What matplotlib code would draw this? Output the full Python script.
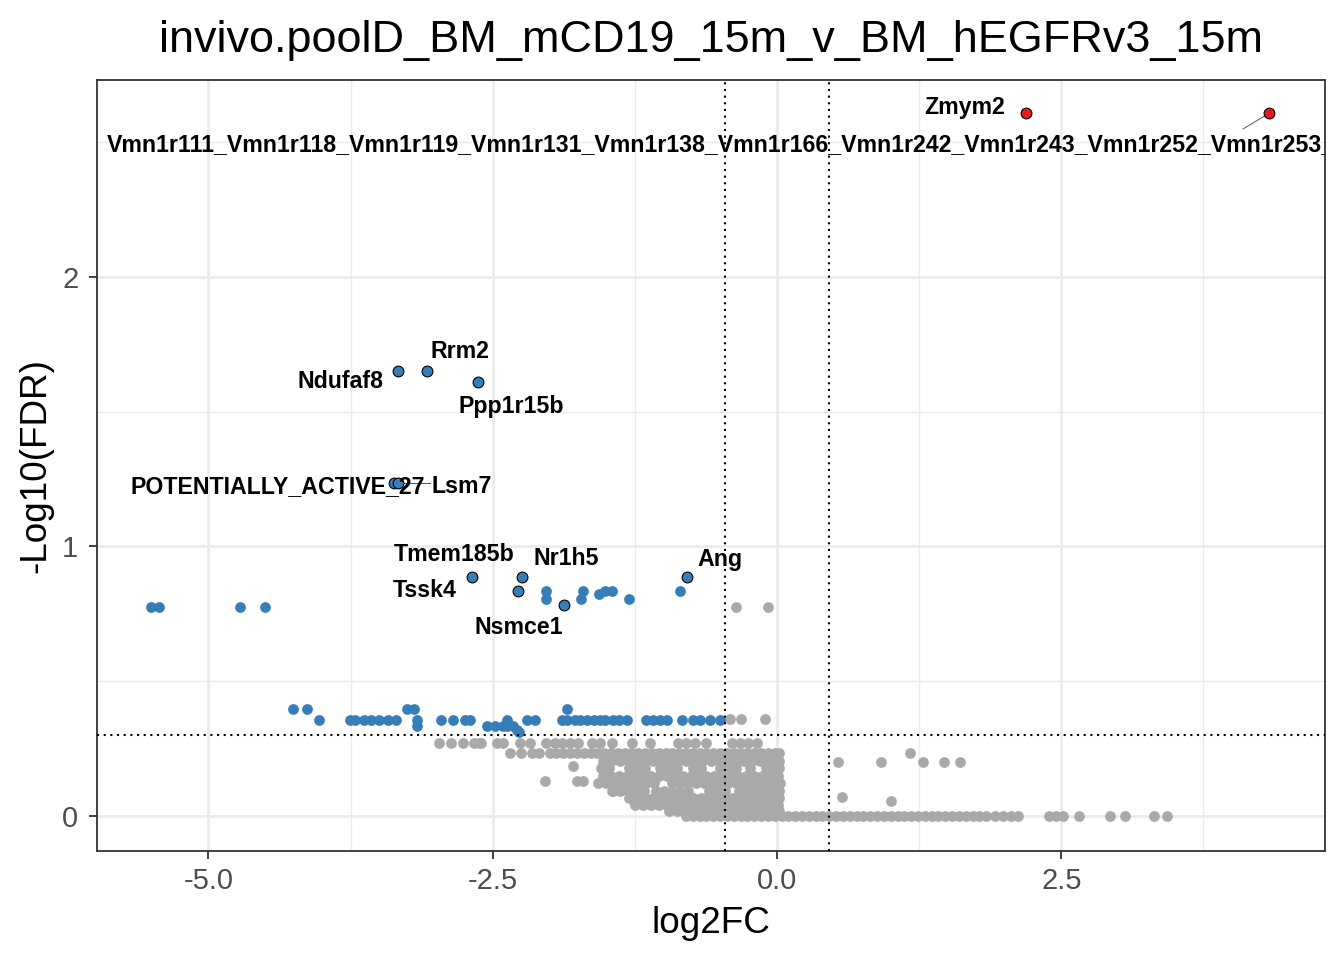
import matplotlib
matplotlib.use("Agg")
import matplotlib.pyplot as plt
from matplotlib.ticker import FixedLocator

plt.rcParams['font.family'] = ['Liberation Sans', 'DejaVu Sans']

title = "invivo.poolD_BM_mCD19_15m_v_BM_hEGFRv3_15m"
fc_cut = 0.46
fdr_cut = 0.301

# labelled hits (log2FC, -log10 FDR)
up_genes = ["Zmym2",
            "Vmn1r111_Vmn1r118_Vmn1r119_Vmn1r131_Vmn1r138_Vmn1r166_Vmn1r242_Vmn1r243_Vmn1r252_Vmn1r253_"]
up_x = [2.19, 4.33]
up_y = [2.608, 2.608]

down_genes = ["Ndufaf8", "Rrm2", "Ppp1r15b", "POTENTIALLY_ACTIVE_27", "Lsm7",
              "Tmem185b", "Nr1h5", "Tssk4", "Nsmce1", "Ang"]
down_x = [-3.333, -3.078, -2.63, -3.37, -3.33, -2.683, -2.243, -2.278, -1.873, -0.792]
down_y = [1.651, 1.651, 1.61, 1.236, 1.236, 0.887, 0.887, 0.835, 0.783, 0.887]

# other significant (blue) guides
blue_mid_x = [-5.506, -5.435, -4.723, -4.503, -2.032, -2.032, -1.724, -1.706,
              -1.566, -1.513, -1.451, -1.302, -0.853]
blue_mid_y = [0.776, 0.776, 0.776, 0.776, 0.835, 0.805, 0.805, 0.835,
              0.824, 0.835, 0.835, 0.805, 0.835]

blue_r1_x = [-4.26, -4.137, -3.251, -3.193, -1.849]
blue_r2_x = [-4.031, -3.755, -3.711, -3.632, -3.568, -3.5, -3.419, -3.351, -3.169,
             -2.958, -2.847, -2.744, -2.7, -2.377, -2.196, -2.128, -1.894, -1.844,
             -1.777, -1.733, -1.668, -1.609, -1.557, -1.513, -1.44, -1.387, -1.317,
             -1.152, -1.093, -1.029, -0.97, -0.838, -0.736, -0.677, -0.589, -0.501]
blue_r3_x = [-3.169, -2.553, -2.48, -2.407, -2.377, -2.325, -2.29, -2.266]
blue_r3_y = [0.334, 0.335, 0.335, 0.335, 0.335, 0.335, 0.32, 0.312]

# non-significant (grey) guides, row by row
grey_hi_x = [-0.361, -0.079, -0.413, -0.319, -0.106]
grey_hi_y = [0.776, 0.776, 0.36, 0.36, 0.36]
grey_r274 = [-2.973, -2.867, -2.764, -2.665, -2.621, -2.6, -2.465, -2.407, -2.26, -2.172,
             -2.032, -1.953, -1.894, -1.821, -1.748, -1.63, -1.557, -1.454, -1.278,
             -1.117, -0.871, -0.8, -0.721, -0.624, -0.398, -0.325, -0.255, -0.176]
grey_r232 = [-2.352, -2.253, -2.155, -2.097, -2.0, -1.94, -1.88, -1.82, -1.76, -1.7,
             -1.64, -1.58, -1.52, -1.46, -1.4, -1.34, -1.28, -1.22, -1.16, -1.1, -1.04,
             -0.98, -0.92, -0.86, -0.8, -0.74, -0.68, -0.62, -0.56, -0.5, -0.44, -0.38,
             -0.32, -0.26, -0.2, -0.14, -0.08, -0.02, 0.02]
grey_r205 = [-1.53, -1.46, -1.38, -1.31, -1.24, -1.16, -1.09, -1.02, -0.95, -0.87, -0.8,
             -0.73, -0.66, -0.58, -0.51, -0.44, -0.37, -0.29, -0.22, -0.15, -0.08, -0.01, 0.02]
grey_r178 = [-1.55, -1.48, -1.3, -1.23, -1.16, -1.03, -0.96, -0.88, -0.74, -0.67, -0.5,
             -0.43, -0.36, -0.24, -0.1, -0.04, 0.02]
grey_r150 = [-1.53, -1.46, -1.39, -1.32, -1.25, -1.18, -1.11, -1.04, -0.97, -0.9, -0.83,
             -0.76, -0.69, -0.62, -0.55, -0.48, -0.41, -0.34, -0.27, -0.2, -0.13, -0.06, 0.01]
grey_r122 = [-1.57, -1.5, -1.43, -1.36, -1.29, -1.22, -1.15, -1.08, -0.92, -0.85, -0.78,
             -0.71, -0.64, -0.57, -0.5, -0.43, -0.36, -0.29, -0.22, -0.15, -0.08, -0.01, 0.03]
grey_r094 = [-1.45, -1.38, -1.31, -1.24, -1.17, -1.06, -0.99, -0.92, -0.85, -0.78, -0.6,
             -0.53, -0.46, -0.33, -0.26, -0.19, -0.12, -0.05, 0.02]
grey_r066 = [-1.3, -1.23, -1.16, -1.09, -1.02, -0.95, -0.88, -0.81, -0.74, -0.67, -0.6,
             -0.53, -0.46, -0.39, -0.32, -0.25, -0.18, -0.11, -0.04, 0.02]
grey_r040 = [-1.25, -1.18, -1.11, -1.04, -0.97, -0.9, -0.83, -0.76, -0.69, -0.62, -0.55,
             -0.48, -0.41, -0.34, -0.27, -0.2, -0.13, -0.06, 0.01]
grey_r018 = [-0.95, -0.88, -0.81, -0.74, -0.67, -0.6, -0.53, -0.46, -0.39, -0.32, -0.25,
             -0.18, -0.11, -0.04, 0.02]
grey_r000 = [-0.8, -0.74, -0.68, -0.62, -0.56, -0.5, -0.44, -0.38, -0.32, -0.26, -0.2,
             -0.14, -0.08, -0.02, 0.04, 0.1, 0.16, 0.22, 0.28, 0.34, 0.4, 0.46, 0.52,
             0.58, 0.64, 0.7, 0.76, 0.82, 0.88, 0.94, 1.0, 1.06, 1.12, 1.18, 1.24, 1.3,
             1.36, 1.42, 1.48, 1.54, 1.6, 1.66, 1.72, 1.78, 1.84, 1.917, 1.988, 2.055,
             2.12, 2.392, 2.458, 2.515, 2.66, 2.929, 3.063, 3.316, 3.427]
grey_odd_x = [-2.04, -1.759, -1.706, -1.794, -1.442, -1.258,
              0.537, 0.915, 1.17, 1.284, 1.469, 1.61, 0.572, 1.003]
grey_odd_y = [0.13, 0.13, 0.13, 0.186, 0.093, 0.052,
              0.2, 0.2, 0.235, 0.2, 0.2, 0.2, 0.07, 0.056]

grey_rows = [(0.272, grey_r274), (0.232, grey_r232), (0.205, grey_r205), (0.178, grey_r178),
             (0.15, grey_r150), (0.122, grey_r122), (0.094, grey_r094), (0.066, grey_r066),
             (0.04, grey_r040), (0.018, grey_r018), (0.0, grey_r000)]

grey_x = list(grey_hi_x) + list(grey_odd_x)
grey_y = list(grey_hi_y) + list(grey_odd_y)
for yy, xs in grey_rows:
    grey_x += xs
    grey_y += [yy] * len(xs)

blue_x = blue_mid_x + blue_r1_x + blue_r2_x + blue_r3_x
blue_y = blue_mid_y + [0.397] * len(blue_r1_x) + [0.356] * len(blue_r2_x) + blue_r3_y

# where ggrepel put the labels
label_pos = {
    "Zmym2": (1.653, 2.627),
    "Ndufaf8": (-3.835, 1.614),
    "Rrm2": (-2.788, 1.722),
    "Ppp1r15b": (-2.339, 1.521),
    "POTENTIALLY_ACTIVE_27": (-4.394, 1.224),
    "Lsm7": (-2.77, 1.224),
    "Tmem185b": (-2.84, 0.972),
    "Nr1h5": (-1.851, 0.957),
    "Tssk4": (-3.096, 0.835),
    "Nsmce1": (-2.274, 0.698),
    "Ang": (-0.504, 0.95),
}

BLUE = "#377EB8"
RED = "#E41A1C"
GREY = "#A9A9A9"
DARK = "#333333"
PT = 60

fig = plt.figure(figsize=(13.44, 9.6), dpi=100)
ax = fig.add_axes([0.0722, 0.1135, 0.9137, 0.8032])

ax.scatter(grey_x, grey_y, s=PT, c=GREY, linewidths=0, zorder=2)
ax.scatter(blue_x, blue_y, s=PT, c=BLUE, linewidths=0, zorder=3)
ax.scatter(down_x, down_y, s=PT, c=BLUE, edgecolors="black", linewidths=0.8, zorder=4)
ax.scatter(up_x, up_y, s=PT, c=RED, edgecolors="black", linewidths=0.8, zorder=4)

for v in (-fc_cut, fc_cut):
    ax.axvline(v, color="black", lw=1.5, ls=(0, (1, 2.2)), zorder=5)
ax.axhline(fdr_cut, color="black", lw=1.5, ls=(0, (1, 2.2)), zorder=5)

# labels
lab_font = dict(fontsize=16.7, fontweight="bold", color="black", zorder=6)
for g, x, y in zip(down_genes, down_x, down_y):
    tx, ty = label_pos[g]
    ax.text(tx, ty, g, ha="center", va="center", **lab_font)
ax.text(*label_pos["Zmym2"], "Zmym2", ha="center", va="center", **lab_font)
ax.text(-5.893, 2.49, up_genes[1], ha="left", va="center", clip_on=True, **lab_font)
ax.plot([-3.33, -3.052], [1.236, 1.236], color="#555555", lw=0.7, zorder=3.5)
ax.plot([4.33, 4.098], [2.608, 2.549], color="#555555", lw=0.7, zorder=3.5)

ax.set_xlim(-5.98, 4.82)
ax.set_ylim(-0.13, 2.731)
ax.set_xticks([-5.0, -2.5, 0.0, 2.5])
ax.set_xticklabels(["-5.0", "-2.5", "0.0", "2.5"])
ax.set_yticks([0, 1, 2])
ax.xaxis.set_minor_locator(FixedLocator([-3.75, -1.25, 1.25, 3.75]))
ax.yaxis.set_minor_locator(FixedLocator([0.5, 1.5, 2.5]))
ax.grid(True, which="major", color="#EBEBEB", lw=2.0, zorder=0)
ax.grid(True, which="minor", color="#EBEBEB", lw=1.0, zorder=0)
ax.set_axisbelow(True)
ax.tick_params(which="major", length=5.5, width=1.3, color=DARK, labelsize=21,
               labelcolor="#4D4D4D")
ax.tick_params(axis="x", pad=6)
ax.tick_params(axis="y", pad=8)
ax.tick_params(which="minor", length=0)
for sp in ax.spines.values():
    sp.set_color(DARK)
    sp.set_linewidth(1.3)

ax.set_xlabel("log2FC", fontsize=26.6, labelpad=8)
ax.set_ylabel("-Log10(FDR)", fontsize=26.6, labelpad=6)
ax.set_title(title, fontsize=32.4, pad=20)

fig.savefig("out.png", dpi=100)
